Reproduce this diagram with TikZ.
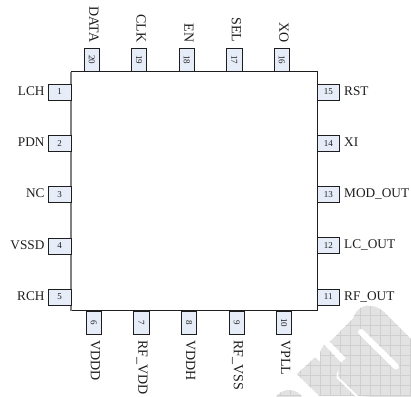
\documentclass[tikz,border=0pt]{standalone}
\usepackage{fontspec}
\setmainfont{Liberation Serif}
\definecolor{pinfill}{HTML}{E6ECF8}
\definecolor{ink}{HTML}{1E1E1E}
\definecolor{wm}{HTML}{E2E2E2}
\definecolor{wmgrid}{HTML}{CFCFCF}
\tikzset{
  sidepin/.style={draw=ink,fill=pinfill,line width=0.9pt,inner sep=0pt,minimum width=22.5pt,minimum height=16pt,font=\fontsize{9}{9}\selectfont,text=ink},
  vertpin/.style={sidepin,rotate=-90,minimum width=23pt,minimum height=15.5pt},
  pinlabel/.style={inner sep=0pt,font=\fontsize{13.3}{13.3}\selectfont,text=ink},
  vertlabel/.style={pinlabel,rotate=-90,font=\fontsize{14}{14}\selectfont},
}
\begin{document}
\begin{tikzpicture}[x=1pt,y=-1pt]
\useasboundingbox (0,0) rectangle (411,396);
% watermark
\begin{scope}
  \clip (0,0) rectangle (411,396);
  \path[save path=\wmshapes]
    (330,341.7) -- (347.3,324) -- (353,318.3)
    .. controls (357,307) and (365,305) .. (370,306)
    .. controls (378,306) and (384,311) .. (388.5,316.5)
    -- (420,348) -- (420,400) -- (358.3,396)
    -- (338.3,376.7) .. controls (338,368) and (340,362) .. (346,358.3) -- cycle
    (296.7,374) -- (315,357.3) -- (320,361.7) -- (320,353.3)
    .. controls (321,349) and (322,347) .. (324.3,345)
    -- (343.3,365) -- (338.3,370) .. controls (336.5,374) and (336,376) .. (336.7,378.3)
    -- (355,396) -- (319.3,396) -- cycle
    (289,406) circle[radius=16];
  \fill[wm,use path=\wmshapes];
  \begin{scope}
    \clip[use path=\wmshapes];
    \foreach \gx in {270,280,...,410} \draw[wmgrid,line width=0.5pt] (\gx,300) -- (\gx,396);
    \foreach \gy in {305,315,...,395} \draw[wmgrid,line width=0.5pt] (260,\gy) -- (411,\gy);
  \end{scope}
  \draw[white,line width=6pt,line cap=round] (361,332) -- (396,366.5);
\end{scope}
% chip body
\coordinate (nw) at (71,71.5);
\coordinate (ne) at (317.5,71.5);
\coordinate (se) at (317.5,310.5);
\coordinate (sw) at (71,310.5);
\draw[ink,line width=0.9pt] (nw) -- (ne) -- (se) -- (sw);
\draw[black!50,line width=1.6pt] (sw) -- (nw);
% left pins
\foreach \n/\t/\yy in {1/LCH/92,2/PDN/143.3,3/NC/194.8,4/VSSD/246,5/RCH/297}{
  \node[sidepin] (pin\n) at (59.7,\yy) {\n};
  \node[pinlabel,anchor=base east] (lbl\n) at (44.7,\yy+3) {\t};
}
% right pins
\foreach \n/\t/\yy in {15/RST/92,14/XI/143.3,13/MOD\_OUT/194.8,12/LC\_OUT/245.5,11/RF\_OUT/297}{
  \node[sidepin] (pin\n) at (328.3,\yy) {\n};
  \node[pinlabel,anchor=base west] (lbl\n) at (344,\yy+3) {\t};
}
% top pins
\foreach \n/\t/\xx in {20/DATA/91.9,19/CLK/139,18/EN/186.8,17/SEL/234.4,16/XO/281.8}{
  \node[vertpin] (pin\n) at (\xx,59.5) {\n};
  \node[vertlabel,anchor=base east] (lbl\n) at (\xx-2.5,42.7) {\t};
}
% bottom pins
\foreach \n/\t/\xx in {6/VDDD/93.9,7/RF\_VDD/141.3,8/VDDH/189,9/RF\_VSS/236.8,10/VPLL/284}{
  \node[vertpin] (pin\n) at (\xx,322.5) {\n};
  \node[vertlabel,anchor=base west] (lbl\n) at (\xx-3,340) {\t};
}
\end{tikzpicture}
\end{document}
